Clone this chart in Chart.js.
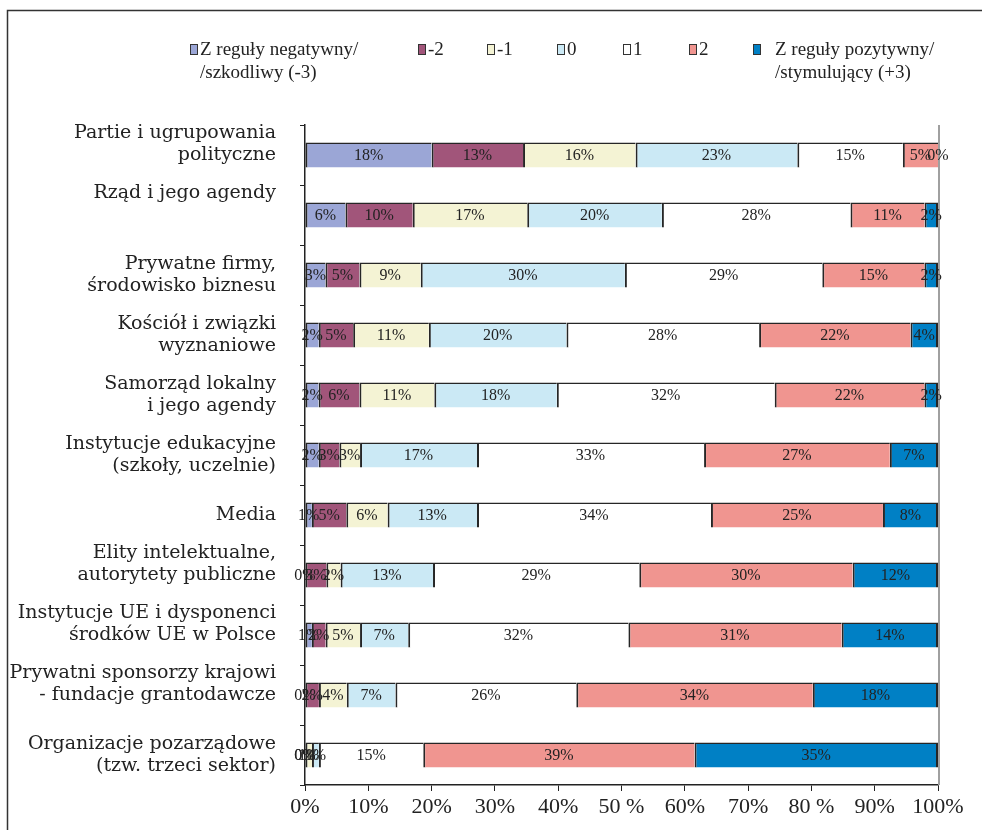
<!DOCTYPE html>
<html>
<head>
<meta charset="utf-8">
<script src="https://cdn.jsdelivr.net/npm/chart.js@4.4.1/dist/chart.umd.min.js"></script>
<style>
  html, body { margin: 0; padding: 0; background: #fff; }
  #wrap { width: 982px; height: 830px; position: relative; }
</style>
</head>
<body>
<div id="wrap"><canvas id="c" width="982" height="830"></canvas></div>
<script>
// Categories (rows of the stacked bar chart); trailing empty lines lift a label a little
const categories = [
  ['Partie i ugrupowania', 'polityczne', ''],
  ['Rząd i jego agendy', '', ''],
  ['Prywatne firmy,', 'środowisko biznesu'],
  ['Kościół i związki', 'wyznaniowe'],
  ['Samorząd lokalny', 'i jego agendy'],
  ['Instytucje edukacyjne', '(szkoły, uczelnie)'],
  'Media',
  ['Elity intelektualne,', 'autorytety publiczne', ''],
  ['Instytucje UE i dysponenci', 'środków UE w Polsce', ''],
  ['Prywatni sponsorzy krajowi', '- fundacje grantodawcze', ''],
  ['Organizacje pozarządowe', '(tzw. trzeci sektor)']
];

// Percent of answers per rating (-3 .. +3)
const ratingMinus3 = [18, 6, 3, 2, 2, 2, 1, 0, 1, 0, 0];
const ratingMinus2 = [13, 10, 5, 5, 6, 3, 5, 3, 2, 2, 0];
const ratingMinus1 = [16, 17, 9, 11, 11, 3, 6, 2, 5, 4, 1];
const rating0      = [23, 20, 30, 20, 18, 17, 13, 13, 7, 7, 1];
const ratingPlus1  = [15, 28, 29, 28, 32, 33, 34, 29, 32, 26, 15];
const ratingPlus2  = [5, 11, 15, 22, 22, 27, 25, 30, 31, 34, 39];
const ratingPlus3  = [0, 2, 2, 4, 2, 7, 8, 12, 14, 18, 35];

const seriesLabels = [
  ['Z reguły negatywny/', '/szkodliwy (-3)'],
  ['-2'], ['-1'], ['0'], ['1'], ['2'],
  ['Z reguły pozytywny/', '/stymulujący (+3)']
];
const xTickLabels = ['0%', '10%', '20%', '30%', '40%', '50 %', '60%', '70%', '80 %', '90%', '100%'];

const seriesValues = [ratingMinus3, ratingMinus2, ratingMinus1, rating0, ratingPlus1, ratingPlus2, ratingPlus3];
const colors = ['#9ba6d6', '#a1557a', '#f4f3d4', '#cbe9f5', '#ffffff', '#f09590', '#0080c5'];

// each row is drawn as a 100% stacked bar: shares of the row total
const rowTotals = categories.map((_, i) => seriesValues.reduce((s, arr) => s + arr[i], 0));

const SERIF = '"Liberation Serif", "Times New Roman", serif';
const LABEL_SERIF = '"DejaVu Serif", Georgia, serif';

const datasets = seriesValues.map((vals, k) => ({
  label: seriesLabels[k].join(' '),
  raw: vals,
  data: vals.map((v, i) => v / rowTotals[i] * 100),
  backgroundColor: colors[k],
  borderColor: '#262626',
  borderWidth: { top: 1.5, left: 2, bottom: 0, right: k === seriesValues.length - 1 ? 2 : 0 },
  borderSkipped: false,
  barPercentage: 0.42,
  categoryPercentage: 1.0
}));

// outer frame, right plot edge, legend and value labels
const decorations = {
  id: 'decorations',
  beforeDraw(chart) {
    const ctx = chart.ctx;
    ctx.save();
    ctx.fillStyle = '#fff';
    ctx.fillRect(0, 0, chart.width, chart.height);
    ctx.strokeStyle = '#333';
    ctx.lineWidth = 1.5;
    ctx.beginPath();
    ctx.moveTo(7.5, chart.height);
    ctx.lineTo(7.5, 10.5);
    ctx.lineTo(chart.width, 10.5);
    ctx.stroke();
    ctx.restore();
  },
  afterDatasetsDraw(chart) {
    const ctx = chart.ctx;
    const a = chart.chartArea;
    ctx.save();
    ctx.strokeStyle = '#a0a0a0';
    ctx.lineWidth = 2;
    ctx.beginPath();
    ctx.moveTo(a.right + 1, a.top);
    ctx.lineTo(a.right + 1, a.bottom);
    ctx.stroke();

    ctx.font = '16px ' + SERIF;
    ctx.fillStyle = '#222';
    ctx.textAlign = 'center';
    ctx.textBaseline = 'middle';
    chart.data.datasets.forEach((ds, k) => {
      const meta = chart.getDatasetMeta(k);
      meta.data.forEach((el, i) => {
        const p = el.getCenterPoint();
        ctx.fillText(ds.raw[i] + '%', p.x, p.y + 1);
      });
    });
    ctx.restore();
  },
  afterDraw(chart) {
    const ctx = chart.ctx;
    ctx.save();
    const boxX = [190, 418, 487, 557, 623, 689, 753];
    const gap = [10, 10, 10, 10, 10, 10, 22];
    ctx.font = '19px ' + SERIF;
    ctx.textBaseline = 'middle';
    ctx.textAlign = 'left';
    seriesLabels.forEach((lines, k) => {
      ctx.fillStyle = colors[k];
      ctx.fillRect(boxX[k], 44, 8, 11);
      ctx.strokeStyle = '#333';
      ctx.lineWidth = 1;
      ctx.strokeRect(boxX[k] + 0.5, 44.5, 7, 10);
      ctx.fillStyle = '#222';
      lines.forEach((t, j) => ctx.fillText(t, boxX[k] + gap[k], 50 + j * 23));
    });
    ctx.restore();
  }
};

new Chart(document.getElementById('c'), {
  type: 'bar',
  data: { labels: categories, datasets },
  options: {
    indexAxis: 'y',
    responsive: false,
    devicePixelRatio: 1,
    animation: false,
    layout: { padding: { left: 0, right: 44, top: 125, bottom: 0 } },
    plugins: { legend: { display: false }, tooltip: { enabled: false } },
    scales: {
      x: {
        type: 'linear',
        stacked: true,
        min: 0,
        max: 100,
        ticks: {
          stepSize: 10,
          autoSkip: false,
          maxRotation: 0,
          padding: 3,
          color: '#222',
          font: { family: SERIF, size: 22 },
          callback: v => xTickLabels[Math.round(v / 10)]
        },
        grid: { drawOnChartArea: false, drawTicks: true, tickLength: 6, color: '#222', lineWidth: 1 },
        border: { color: '#222', width: 1.5 },
        afterFit(s) { s.height = 45; }
      },
      y: {
        stacked: true,
        offset: true,
        ticks: {
          autoSkip: false,
          padding: 24,
          color: '#222',
          font: { family: LABEL_SERIF, size: 19, lineHeight: 1.16 }
        },
        grid: { offset: true, drawOnChartArea: false, tickLength: 5, color: '#222', lineWidth: 1 },
        border: { color: '#222', width: 1.5 },
        afterFit(s) { s.width = 305; s.paddingTop = 0; s.paddingBottom = 0; }
      }
    }
  },
  plugins: [decorations]
});
</script>
</body>
</html>
